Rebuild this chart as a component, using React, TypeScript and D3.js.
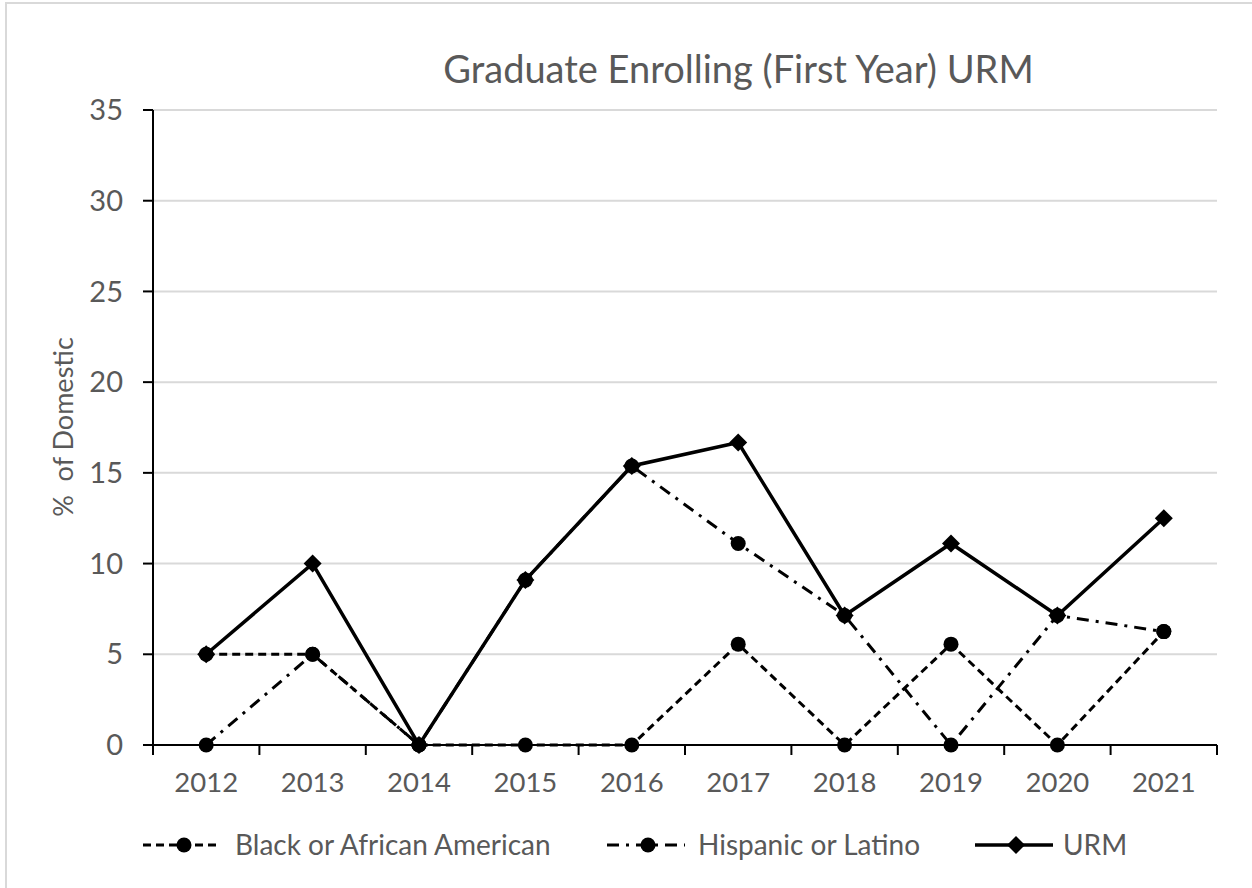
import React from "react";
import * as d3 from "d3";

const years = ["2012", "2013", "2014", "2015", "2016", "2017", "2018", "2019", "2020", "2021"];
const black = [5, 5, 0, 0, 0, 5.56, 0, 5.56, 0, 6.25];
const hispanic = [0, 5, 0, 9.09, 15.38, 11.11, 7.14, 0, 7.14, 6.25];
const urm = [5, 10, 0, 9.09, 15.38, 16.67, 7.14, 11.11, 7.14, 12.5];
const yTicks = [0, 5, 10, 15, 20, 25, 30, 35];

const W = 1252, H = 888;
const L = 153, R = 1217, T = 110, B = 745;
const FONT = "Lato, 'Open Sans', sans-serif";
const GRAY = "#595959";

export default function App() {
  const x = d3.scaleBand<string>().domain(years).range([L, R]);
  const y = d3.scaleLinear().domain([0, 35]).range([B, T]);
  const cx = (yr: string) => (x(yr) as number) + x.bandwidth() / 2;
  const line = d3.line<number>().x((_, i) => cx(years[i])).y((d) => y(d));

  const series = [
    { name: "Black or African American", data: black, dash: "8,5", marker: "circle" },
    { name: "Hispanic or Latino", data: hispanic, dash: "12,7,3,7", marker: "circle" },
    { name: "URM", data: urm, dash: "", marker: "diamond" },
  ];

  const marker = (m: string, px: number, py: number, key: string) =>
    m === "circle" ? (
      <circle key={key} cx={px} cy={py} r={7.5} fill="#000" />
    ) : (
      <path key={key} d={`M${px},${py - 9}L${px + 9},${py}L${px},${py + 9}L${px - 9},${py}Z`} fill="#000" />
    );

  const legendX = [143, 607, 975];
  const legendTextX = [235, 698, 1063];

  return (
    <svg width={W} height={H} style={{ position: "absolute", left: 0, top: 0, background: "#fff" }}>
      <rect x={6} y={3} width={1300} height={1000} fill="#fff" stroke="#d9d9d9" strokeWidth={2} />
      <text x={738.5} y={83} textAnchor="middle" fontFamily={FONT} fontSize={38} fill={GRAY}>
        Graduate Enrolling (First Year) URM
      </text>
      {yTicks.map((t) => (
        <g key={t}>
          {t > 0 && <line x1={L} x2={R} y1={y(t)} y2={y(t)} stroke="#d9d9d9" strokeWidth={2} />}
          <line x1={L - 10} x2={L} y1={y(t)} y2={y(t)} stroke="#000" strokeWidth={2} />
          <text x={123} y={y(t)} dy="0.35em" textAnchor="end" fontFamily={FONT} fontSize={29} fill={GRAY}>
            {t}
          </text>
        </g>
      ))}
      <line x1={L} x2={L} y1={T} y2={B} stroke="#000" strokeWidth={2} />
      <line x1={L} x2={R} y1={B} y2={B} stroke="#000" strokeWidth={2} />
      {years.map((yr) => (
        <g key={yr}>
          <line x1={x(yr) as number} x2={x(yr) as number} y1={B} y2={B + 10} stroke="#000" strokeWidth={2} />
          <text x={cx(yr)} y={792} textAnchor="middle" fontFamily={FONT} fontSize={27.5} fill={GRAY}>
            {yr}
          </text>
        </g>
      ))}
      <line x1={R} x2={R} y1={B} y2={B + 10} stroke="#000" strokeWidth={2} />
      <text
        transform={`translate(${73},${427}) rotate(-90)`}
        textAnchor="middle"
        fontFamily={FONT}
        fontSize={27}
        fill={GRAY}
        style={{ whiteSpace: "pre" }}
      >
        {"%  of Domestic"}
      </text>
      {series.map((s) => (
        <g key={s.name}>
          <path d={line(s.data) as string} fill="none" stroke="#000" strokeWidth={s.dash ? 3 : 3.5} strokeDasharray={s.dash || undefined} />
          {s.data.map((v, i) => marker(s.marker, cx(years[i]), y(v), s.name + i))}
        </g>
      ))}
      {series.map((s, i) => {
        const lx = legendX[i];
        const ly = 845;
        return (
          <g key={"lg" + s.name}>
            <line x1={lx} x2={lx + 78} y1={ly} y2={ly} stroke="#000" strokeWidth={s.dash ? 3 : 3.5} strokeDasharray={s.dash || undefined} />
            {marker(s.marker, lx + 41, ly, "lm" + i)}
            <text x={legendTextX[i]} y={ly} dy="0.35em" fontFamily={FONT} fontSize={28} fill={GRAY}>
              {s.name}
            </text>
          </g>
        );
      })}
    </svg>
  );
}
